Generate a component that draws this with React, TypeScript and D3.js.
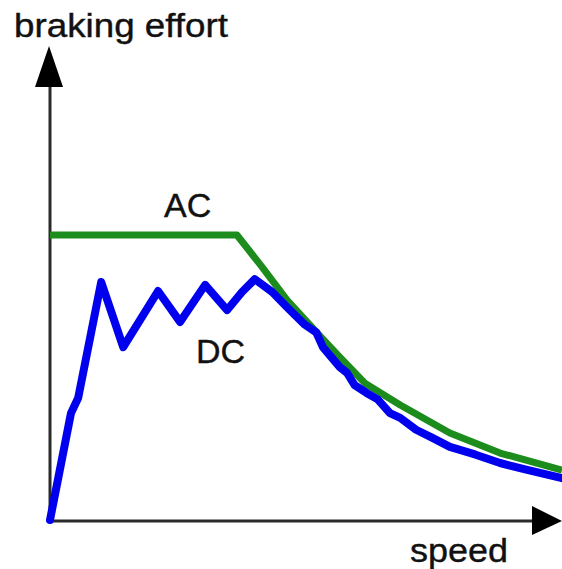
import React from "react";
import * as d3 from "d3";

// speed (0-100) vs braking effort (0-100)
const acSpeed = [0, 36.5, 41.4, 46.3, 53.3, 56.6, 61.5, 68.4, 78.1, 87.9, 100];
const acEffort = [60, 60, 53.3, 46.3, 38.1, 34.3, 28.8, 24.2, 18.3, 14.1, 10.5];

const dcSpeed = [0, 4.1, 5.5, 10.0, 14.3, 21.1, 25.4, 30.3, 34.6, 37.5, 40.0, 43.4, 46.3, 49.8, 52.0, 53.3, 56.6, 58.0, 59.5, 61.9, 64.0, 66.4, 68.4, 71.5, 74.5, 78.1, 83.0, 87.9, 93.0, 100];
const dcEffort = [0, 22.5, 25.7, 50.1, 36.4, 48.2, 41.7, 49.5, 44.2, 48.0, 50.7, 48.0, 44.8, 41.1, 39.5, 36.4, 32.2, 31.0, 28.4, 26.7, 25.4, 22.5, 21.5, 19.0, 17.4, 15.4, 13.8, 12.0, 10.6, 8.8];

const yAxisLabel = "braking effort";
const xAxisLabel = "speed";
const acLabel = "AC";
const dcLabel = "DC";

export default function App() {
  const W = 562;
  const H = 569;
  const x = d3.scaleLinear().domain([0, 100]).range([50, 562]);
  const y = d3.scaleLinear().domain([0, 100]).range([520, 45]);

  const ac = acSpeed.map((s, i) => [s, acEffort[i]] as [number, number]);
  const dc = dcSpeed.map((s, i) => [s, dcEffort[i]] as [number, number]);
  const line = d3
    .line<[number, number]>()
    .x((d) => x(d[0]))
    .y((d) => y(d[1]))
    .curve(d3.curveLinear);

  const font = "'Liberation Sans', Arial, Helvetica, sans-serif";
  const ox = 50;
  const oy = 521;

  return (
    <svg
      width={W}
      height={H}
      style={{ position: "absolute", left: 0, top: 0, background: "#fff" }}
    >
      {/* axes */}
      <line x1={ox} y1={oy} x2={ox} y2={84} stroke="#2a2a2a" strokeWidth={3} />
      <line x1={ox - 1.5} y1={oy} x2={534} y2={oy} stroke="#2a2a2a" strokeWidth={3} />
      <polygon points={`${ox - 1},46 ${ox - 15},87 ${ox + 13},87`} fill="#000" />
      <polygon points={`562,${oy} 532,${oy - 15} 532,${oy + 14}`} fill="#000" />

      {/* series */}
      <path d={line(ac) || ""} fill="none" stroke="#1c8c1c" strokeWidth={7} strokeLinejoin="round" />
      <path d={line(dc) || ""} fill="none" stroke="#0000ee" strokeWidth={8} strokeLinejoin="round" strokeLinecap="round" />

      {/* texts */}
      <text x={14} y={37} fontFamily={font} fontSize={33} fill="#111" stroke="#111" strokeWidth={0.4} textLength={214} lengthAdjust="spacingAndGlyphs">
        {yAxisLabel}
      </text>
      <text x={410} y={562} fontFamily={font} fontSize={33} fill="#111" stroke="#111" strokeWidth={0.4} textLength={98} lengthAdjust="spacingAndGlyphs">
        {xAxisLabel}
      </text>
      <text x={164} y={217} fontFamily={font} fontSize={34} fill="#111" stroke="#111" strokeWidth={0.4}>
        {acLabel}
      </text>
      <text x={196} y={363} fontFamily={font} fontSize={34} fill="#111" stroke="#111" strokeWidth={0.4}>
        {dcLabel}
      </text>
    </svg>
  );
}
